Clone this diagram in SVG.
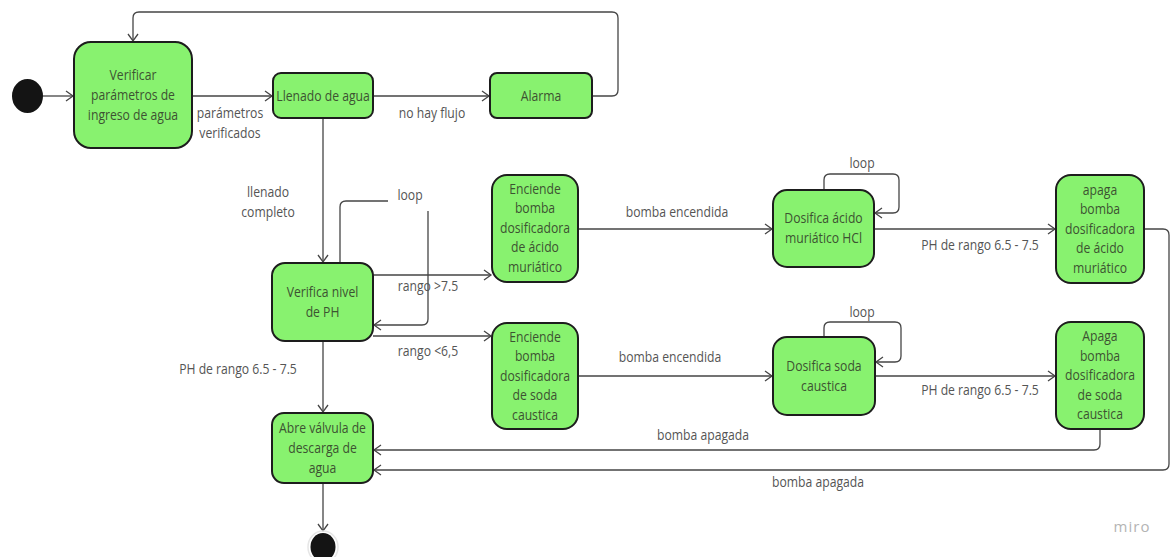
<svg xmlns="http://www.w3.org/2000/svg" width="1172" height="557" viewBox="0 0 1172 557">
  <style>
    .node { fill: #88f26f; stroke: #1d1d1d; stroke-width: 2; }
    .ntxt { font-family: "Open Sans", "Noto Sans", sans-serif; font-size: 14px; fill: #3d5232; text-anchor: middle; }
    .lbl { font-family: "Open Sans", "Noto Sans", sans-serif; font-size: 14px; fill: #555555; text-anchor: middle; }
    .edge { fill: none; stroke: #454545; stroke-width: 1.3; }
    .dot { fill: #141414; }
  </style>
  <defs>
    <marker id="arrow" markerUnits="userSpaceOnUse" markerWidth="12" markerHeight="14" refX="8" refY="6" orient="auto">
      <path d="M1,1 L8,6 L1,11" fill="none" stroke="#454545" stroke-width="1.3"/>
    </marker>
  </defs>
  <rect width="1172" height="557" fill="#ffffff"/>

  <!-- transitions -->
  <g id="connectors">
    <path class="edge" d="M43,96 H73" marker-end="url(#arrow)"/>
    <path class="edge" d="M192,96 H272" marker-end="url(#arrow)"/>
    <path class="edge" d="M373,96 H489" marker-end="url(#arrow)"/>
    <path class="edge" d="M592,96 H612 Q618,96 618,90 V18 Q618,12 612,12 H139 Q133,12 133,18 V41" marker-end="url(#arrow)"/>
    <path class="edge" d="M323,118 V262" marker-end="url(#arrow)"/>
    <!-- self loop on PH check -->
    <path class="edge" d="M340,263 V207 Q340,201 346,201 H388"/>
    <path class="edge" d="M428,211 V319 Q428,325 422,325 H374" marker-end="url(#arrow)"/>
    <path class="edge" d="M373,275 H491" marker-end="url(#arrow)"/>
    <path class="edge" d="M373,336 H491" marker-end="url(#arrow)"/>
    <path class="edge" d="M323,341 V412" marker-end="url(#arrow)"/>
    <!-- acid branch -->
    <path class="edge" d="M578,229 H772" marker-end="url(#arrow)"/>
    <path class="edge" d="M824,190 V180 Q824,174 830,174 H893 Q899,174 899,180 V207 Q899,213 893,213 H875" marker-end="url(#arrow)"/>
    <path class="edge" d="M874,229 H1055" marker-end="url(#arrow)"/>
    <path class="edge" d="M1144,229 H1163 Q1169,229 1169,235 V464 Q1169,470 1163,470 H374" marker-end="url(#arrow)"/>
    <!-- soda branch -->
    <path class="edge" d="M578,376 H772" marker-end="url(#arrow)"/>
    <path class="edge" d="M824,337 V328 Q824,322 830,322 H895 Q901,322 901,328 V356 Q901,362 895,362 H876" marker-end="url(#arrow)"/>
    <path class="edge" d="M875,376 H1055" marker-end="url(#arrow)"/>
    <path class="edge" d="M1100,429 V444 Q1100,450 1094,450 H374" marker-end="url(#arrow)"/>
    <path class="edge" d="M323,483 V531" marker-end="url(#arrow)"/>

    <!-- transition labels -->
    <text class="lbl" transform="translate(230 0) scale(.87 1)"><tspan x="0" y="118">parámetros</tspan><tspan x="0" y="138">verificados</tspan></text>
    <text class="lbl" transform="translate(432 0) scale(.87 1)" x="0" y="118">no hay flujo</text>
    <text class="lbl" transform="translate(268 0) scale(.87 1)"><tspan x="0" y="197">llenado</tspan><tspan x="0" y="217">completo</tspan></text>
    <text class="lbl" transform="translate(410 0) scale(.87 1)" x="0" y="200">loop</text>
    <text class="lbl" transform="translate(428 0) scale(.87 1)" x="0" y="291">rango &gt;7.5</text>
    <text class="lbl" transform="translate(428 0) scale(.87 1)" x="0" y="356">rango &lt;6,5</text>
    <text class="lbl" transform="translate(238 0) scale(.87 1)" x="0" y="374">PH de rango 6.5 - 7.5</text>
    <text class="lbl" transform="translate(677 0) scale(.87 1)" x="0" y="217">bomba encendida</text>
    <text class="lbl" transform="translate(862 0) scale(.87 1)" x="0" y="168">loop</text>
    <text class="lbl" transform="translate(980 0) scale(.87 1)" x="0" y="250">PH de rango 6.5 - 7.5</text>
    <text class="lbl" transform="translate(670 0) scale(.87 1)" x="0" y="362">bomba encendida</text>
    <text class="lbl" transform="translate(862 0) scale(.87 1)" x="0" y="317">loop</text>
    <text class="lbl" transform="translate(980 0) scale(.87 1)" x="0" y="395">PH de rango 6.5 - 7.5</text>
    <text class="lbl" transform="translate(703 0) scale(.87 1)" x="0" y="440">bomba apagada</text>
    <text class="lbl" transform="translate(818 0) scale(.87 1)" x="0" y="487">bomba apagada</text>
  </g>

  <!-- initial and final pseudo-states -->
  <g id="start">
    <ellipse class="dot" cx="27.5" cy="96" rx="15.5" ry="17"/>
  </g>
  <g id="end">
    <ellipse cx="323" cy="547" rx="15" ry="16" fill="none" stroke="#e6e6e6" stroke-width="1.5"/>
    <ellipse class="dot" cx="323" cy="547" rx="12.5" ry="14"/>
  </g>

  <!-- states -->
  <g id="verificar-parametros">
    <rect class="node" x="74" y="42" width="118" height="106" rx="17"/>
    <text class="ntxt" transform="translate(133 0) scale(.87 1)"><tspan x="0" y="80">Verificar</tspan><tspan x="0" y="100">parámetros de</tspan><tspan x="0" y="120">ingreso de agua</tspan></text>
  </g>
  <g id="llenado-agua">
    <rect class="node" x="273" y="73" width="100" height="45" rx="8"/>
    <text class="ntxt" transform="translate(323 0) scale(.87 1)" x="0" y="101">Llenado de agua</text>
  </g>
  <g id="alarma">
    <rect class="node" x="490" y="73" width="102" height="45" rx="7"/>
    <text class="ntxt" transform="translate(541 0) scale(.87 1)" x="0" y="101">Alarma</text>
  </g>
  <g id="verifica-ph">
    <rect class="node" x="272" y="263" width="101" height="78" rx="13"/>
    <text class="ntxt" transform="translate(322.5 0) scale(.87 1)"><tspan x="0" y="297">Verifica nivel</tspan><tspan x="0" y="317">de PH</tspan></text>
  </g>
  <g id="enciende-acido">
    <rect class="node" x="492" y="175" width="86" height="107" rx="15"/>
    <text class="ntxt" transform="translate(535 0) scale(.87 1)"><tspan x="0" y="194">Enciende</tspan><tspan x="0" y="213.5">bomba</tspan><tspan x="0" y="233">dosificadora</tspan><tspan x="0" y="252.5">de ácido</tspan><tspan x="0" y="272">muriático</tspan></text>
  </g>
  <g id="dosifica-acido">
    <rect class="node" x="773" y="190" width="101" height="77" rx="14"/>
    <text class="ntxt" transform="translate(823.5 0) scale(.87 1)"><tspan x="0" y="223.5">Dosifica ácido</tspan><tspan x="0" y="243.5">muriático HCl</tspan></text>
  </g>
  <g id="apaga-acido">
    <rect class="node" x="1056" y="175" width="88" height="108" rx="15"/>
    <text class="ntxt" transform="translate(1100 0) scale(.87 1)"><tspan x="0" y="195">apaga</tspan><tspan x="0" y="214.5">bomba</tspan><tspan x="0" y="234">dosificadora</tspan><tspan x="0" y="253.5">de ácido</tspan><tspan x="0" y="273">muriático</tspan></text>
  </g>
  <g id="enciende-soda">
    <rect class="node" x="492" y="323" width="86" height="106" rx="15"/>
    <text class="ntxt" transform="translate(535 0) scale(.87 1)"><tspan x="0" y="342">Enciende</tspan><tspan x="0" y="361.5">bomba</tspan><tspan x="0" y="381">dosificadora</tspan><tspan x="0" y="400.5">de soda</tspan><tspan x="0" y="420">caustica</tspan></text>
  </g>
  <g id="dosifica-soda">
    <rect class="node" x="773" y="337" width="102" height="78" rx="14"/>
    <text class="ntxt" transform="translate(824 0) scale(.87 1)"><tspan x="0" y="371">Dosifica soda</tspan><tspan x="0" y="391">caustica</tspan></text>
  </g>
  <g id="apaga-soda">
    <rect class="node" x="1056" y="322" width="88" height="107" rx="15"/>
    <text class="ntxt" transform="translate(1100 0) scale(.87 1)"><tspan x="0" y="341.5">Apaga</tspan><tspan x="0" y="361">bomba</tspan><tspan x="0" y="380.5">dosificadora</tspan><tspan x="0" y="400">de soda</tspan><tspan x="0" y="419.5">caustica</tspan></text>
  </g>
  <g id="abre-valvula">
    <rect class="node" x="272" y="413" width="101" height="70" rx="12"/>
    <text class="ntxt" transform="translate(322.5 0) scale(.87 1)"><tspan x="0" y="433">Abre válvula de</tspan><tspan x="0" y="453">descarga de</tspan><tspan x="0" y="473">agua</tspan></text>
  </g>

  <text font-family="'Open Sans', 'Noto Sans', sans-serif" font-size="15" fill="#b4b4b4" text-anchor="middle" x="1132" y="532" letter-spacing="1">miro</text>
</svg>
